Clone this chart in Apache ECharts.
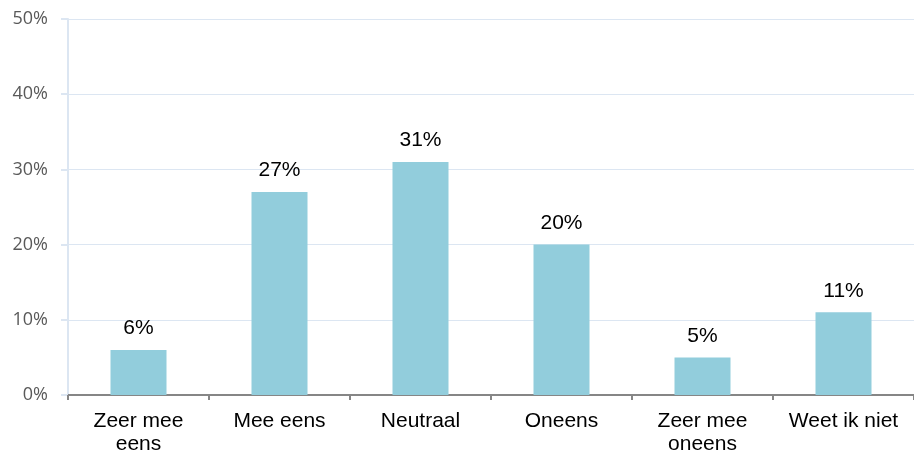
<!DOCTYPE html>
<html>
<head>
<meta charset="utf-8">
<script src="https://cdn.jsdelivr.net/npm/echarts@6/dist/echarts.min.js"></script>
<style>html,body{margin:0;padding:0;background:#fff}#c{width:914px;height:452px}</style>
</head>
<body>
<div id="c"></div>
<script>
const categories = ['Zeer mee\neens', 'Mee eens', 'Neutraal', 'Oneens', 'Zeer mee\noneens', 'Weet ik niet'];
const values = [6, 27, 31, 20, 5, 11];
const yTicks = [0, 10, 20, 30, 40, 50];

const chart = echarts.init(document.getElementById('c'), null, {renderer: 'canvas'});
chart.setOption({
  animation: false,
  grid: {left: 68, right: 0, top: 19, bottom: 57, containLabel: false, outerBoundsMode: 'none'},
  xAxis: {
    type: 'category',
    data: categories,
    boundaryGap: true,
    axisLine: {show: true, lineStyle: {color: '#868686', width: 2}},
    axisTick: {show: true, alignWithLabel: false, length: 5, lineStyle: {color: '#868686', width: 2}},
    axisLabel: {color: '#000', fontFamily: 'Liberation Sans', fontSize: 21, margin: 15, lineHeight: 23, interval: 0}
  },
  yAxis: {
    type: 'value',
    min: yTicks[0],
    max: yTicks[yTicks.length - 1],
    interval: 10,
    axisLine: {show: true, lineStyle: {color: '#DCE6F2', width: 2}},
    axisTick: {show: true, length: 7, lineStyle: {color: '#DCE6F2', width: 2}},
    splitLine: {show: true, lineStyle: {color: '#DCE6F2', width: 1}},
    axisLabel: {color: '#595959', fontFamily: 'Open Sans', fontSize: 18, margin: 20, formatter: v => v + '%'}
  },
  series: [{
    type: 'bar',
    data: values,
    barWidth: 56,
    itemStyle: {color: '#92CDDC'},
    label: {show: true, position: 'top', distance: 11, color: '#000', fontFamily: 'Liberation Sans', fontSize: 21, formatter: p => p.value + '%'}
  }]
});
</script>
</body>
</html>
